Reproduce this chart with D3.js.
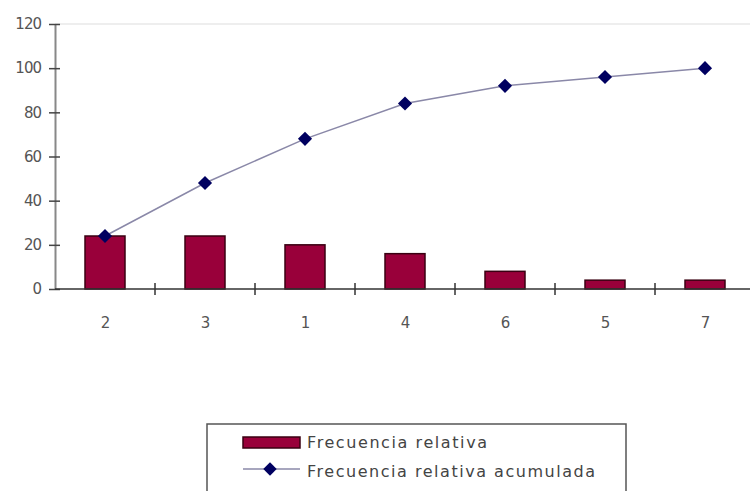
<!DOCTYPE html>
<html><head><meta charset="utf-8">
<script src="https://cdn.jsdelivr.net/npm/d3@7"></script>
<style>html,body{margin:0;padding:0;background:#fff;overflow:hidden}</style>
</head><body>
<svg id="c" width="750" height="491"></svg>
<script>
const categories = ["2","3","1","4","6","5","7"];
const relative = [24,24,20,16,8,4,4];
const cumulative = [24,48,68,84,92,96,100];
const yTicks = [0,20,40,60,80,100,120];
const legendLabels = ["Frecuencia relativa","Frecuencia relativa acumulada"];

(function(){
const svg = d3.select("#c");
const mLeft = 55, mRight = 755, mTop = 24, mBottom = 289;
const xc = d3.scalePoint().domain(categories).range([mLeft, mRight]).padding(0.5);
const y = d3.scaleLinear().domain([0,120]).range([mBottom, mTop]);
const font = "Verdana, 'DejaVu Sans', sans-serif";

// top gridline
svg.append("line").attr("x1", mLeft).attr("x2", 750).attr("y1", y(120)).attr("y2", y(120))
  .attr("stroke", "#ddd").attr("stroke-width", 1);

// y axis
const ya = svg.append("g").attr("transform", `translate(${mLeft},0)`)
  .call(d3.axisLeft(y).tickValues(yTicks).tickSize(5).tickSizeOuter(0));
ya.select(".domain").attr("stroke", "#888").attr("stroke-width", 2);
ya.selectAll(".tick line").attr("stroke", "#444").attr("x2", 5).attr("x1", -6).attr("stroke-width", 1.5);
ya.selectAll(".tick text").attr("x", -14).attr("font-family", font).attr("font-size", 15).attr("fill", "#555")
  .attr("letter-spacing", "-1");

// bars
svg.selectAll("rect.bar").data(relative).enter().append("rect")
  .attr("class", "bar")
  .attr("x", (d,i) => xc(categories[i]) - 20)
  .attr("width", 40)
  .attr("y", d => y(d))
  .attr("height", d => y(0) - y(d))
  .attr("fill", "#99003a").attr("stroke", "#3a0012").attr("stroke-width", 1.5);

// x axis
const xa = svg.append("g").attr("transform", `translate(0,${mBottom})`)
  .call(d3.axisBottom(xc).tickSize(0).tickSizeOuter(0));
xa.select(".domain").attr("stroke", "#333").attr("stroke-width", 1.5).attr("d", `M${mLeft},0H750`);
xa.selectAll(".tick text").attr("dy", 0).attr("y", 39).attr("font-family", font).attr("font-size", 15).attr("fill", "#555");
const bounds = categories.slice(1).map(c => xc(c) - xc.step()/2);
xa.selectAll("line.bt").data(bounds).enter().append("line").attr("class","bt")
  .attr("x1", d => d).attr("x2", d => d).attr("y1", -6).attr("y2", 6)
  .attr("stroke", "#333").attr("stroke-width", 1.5);

// cumulative line
svg.append("path").datum(cumulative)
  .attr("d", d3.line().x((d,i) => xc(categories[i])).y(d => y(d)))
  .attr("fill", "none").attr("stroke", "#8a88a8").attr("stroke-width", 1.5);
svg.selectAll("path.pt").data(cumulative).enter().append("path").attr("class","pt")
  .attr("d", d3.symbol(d3.symbolSquare, 100))
  .attr("transform", (d,i) => `translate(${xc(categories[i])},${y(d)}) rotate(45)`)
  .attr("fill", "#000060");

// legend
const lg = svg.append("g");
lg.append("rect").attr("x", 207).attr("y", 424).attr("width", 419).attr("height", 80)
  .attr("fill", "#fff").attr("stroke", "#555").attr("stroke-width", 1.5);
lg.append("rect").attr("x", 243).attr("y", 437).attr("width", 57).attr("height", 11)
  .attr("fill", "#99003a").attr("stroke", "#3a0012").attr("stroke-width", 1.5);
lg.append("line").attr("x1", 243).attr("x2", 300).attr("y1", 469).attr("y2", 469)
  .attr("stroke", "#8a88a8").attr("stroke-width", 1.5);
lg.append("path").attr("d", d3.symbol(d3.symbolSquare, 90)).attr("transform", "translate(270,469) rotate(45)").attr("fill", "#000060");
lg.selectAll("text").data(legendLabels).enter().append("text")
  .attr("x", 307).attr("y", (d,i) => 448 + i*29)
  .attr("font-family", font).attr("font-size", 16).attr("fill", "#444")
  .attr("textLength", (d,i) => i === 0 ? 180 : 288).attr("lengthAdjust", "spacing")
  .text(d => d);
})();
</script>
</body></html>
